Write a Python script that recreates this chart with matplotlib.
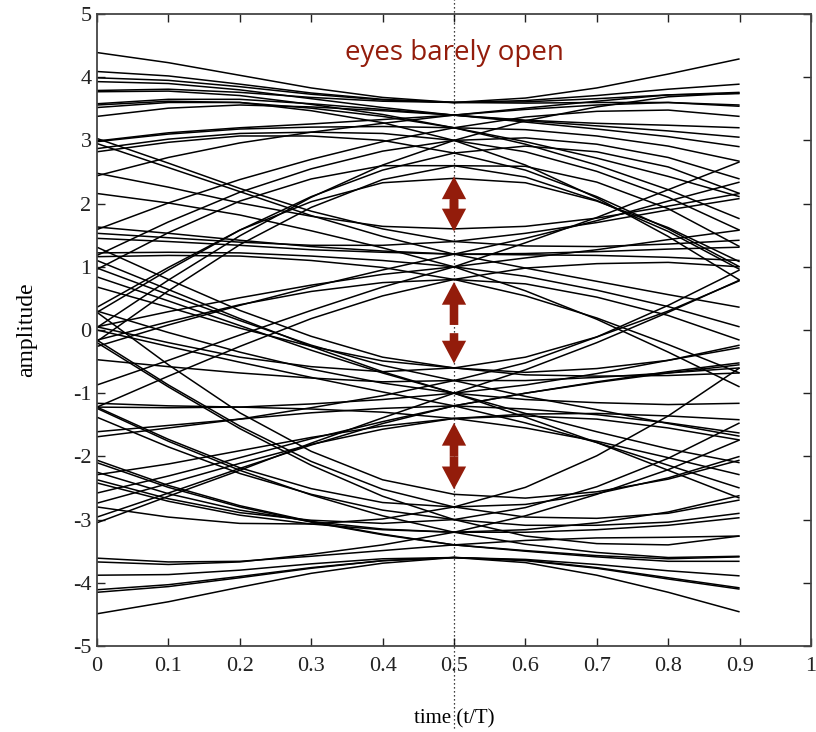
import matplotlib
matplotlib.use("Agg")
import matplotlib.pyplot as plt
import numpy as np

plt.rcParams["axes.unicode_minus"] = False

t_samples = [0.0, 0.1, 0.2, 0.3, 0.4, 0.5, 0.6, 0.7, 0.8, 0.9]

# traces that sit near +3 at t = 0.5
traces_p3 = [
    [4.39, 4.23, 4.03, 3.83, 3.68, 3.60, 3.67, 3.83, 4.05, 4.29],
    [4.09, 4.02, 3.89, 3.75, 3.65, 3.60, 3.63, 3.71, 3.81, 3.89],
    [3.99, 3.95, 3.85, 3.73, 3.64, 3.60, 3.61, 3.66, 3.72, 3.74],
    [3.79, 3.81, 3.76, 3.68, 3.62, 3.60, 3.59, 3.60, 3.60, 3.54],
    [3.93, 3.90, 3.80, 3.66, 3.52, 3.40, 3.32, 3.27, 3.24, 3.20],
    [3.58, 3.65, 3.65, 3.58, 3.49, 3.40, 3.31, 3.23, 3.15, 3.05],
    [3.77, 3.78, 3.71, 3.57, 3.41, 3.20, 2.94, 2.61, 2.22, 1.76],
    [3.56, 3.62, 3.60, 3.47, 3.28, 3.00, 2.61, 2.09, 1.48, 0.79],
    [2.99, 3.12, 3.20, 3.26, 3.33, 3.40, 3.51, 3.62, 3.72, 3.76],
    [2.44, 2.73, 2.96, 3.13, 3.27, 3.40, 3.49, 3.56, 3.60, 3.56],
    [2.98, 3.10, 3.18, 3.21, 3.22, 3.20, 3.17, 3.07, 2.91, 2.67],
    [2.87, 3.02, 3.11, 3.13, 3.11, 3.00, 2.82, 2.51, 2.10, 1.58],
    [1.59, 2.01, 2.38, 2.70, 2.98, 3.20, 3.37, 3.46, 3.48, 3.38],
    [1.18, 1.71, 2.18, 2.55, 2.83, 3.00, 3.04, 2.94, 2.73, 2.39],
    [0.96, 1.54, 2.04, 2.39, 2.60, 2.60, 2.42, 2.05, 1.56, 0.96],
    [0.04, 0.79, 1.49, 2.10, 2.61, 3.00, 3.31, 3.53, 3.69, 3.75],
    [0.28, 0.95, 1.58, 2.11, 2.53, 2.80, 2.91, 2.82, 2.58, 2.16],
    [-0.18, 0.62, 1.35, 1.94, 2.38, 2.60, 2.59, 2.34, 1.92, 1.32],
    [0.36, 0.99, 1.58, 2.03, 2.33, 2.40, 2.33, 2.04, 1.62, 1.08],
    [2.82, 2.97, 3.07, 3.07, 3.00, 2.80, 2.53, 2.11, 1.60, 1.00],
    [3.38, 3.51, 3.56, 3.53, 3.47, 3.40, 3.29, 3.18, 3.06, 2.90],
    [3.52, 3.60, 3.60, 3.51, 3.38, 3.20, 2.98, 2.72, 2.43, 2.11],
]

# traces near +1 at t = 0.5
traces_p1 = [
    [2.48, 2.26, 2.01, 1.80, 1.64, 1.60, 1.64, 1.77, 1.96, 2.16],
    [3.03, 2.64, 2.24, 1.88, 1.60, 1.40, 1.33, 1.32, 1.36, 1.42],
    [2.95, 2.57, 2.19, 1.81, 1.48, 1.20, 0.98, 0.77, 0.56, 0.36],
    [2.16, 2.01, 1.82, 1.57, 1.30, 1.00, 0.62, 0.17, -0.35, -0.90],
    [1.53, 1.46, 1.39, 1.34, 1.34, 1.40, 1.53, 1.70, 1.90, 2.08],
    [1.45, 1.40, 1.34, 1.27, 1.23, 1.20, 1.21, 1.24, 1.28, 1.31],
    [1.22, 1.23, 1.22, 1.17, 1.10, 1.00, 0.85, 0.63, 0.37, 0.05],
    [1.16, 1.18, 1.17, 1.10, 0.99, 0.80, 0.54, 0.19, -0.23, -0.68],
    [-0.26, 0.08, 0.39, 0.68, 0.95, 1.20, 1.45, 1.73, 2.04, 2.34],
    [0.05, 0.29, 0.51, 0.71, 0.88, 1.00, 1.14, 1.27, 1.43, 1.58],
    [-0.16, 0.13, 0.40, 0.61, 0.75, 0.80, 0.73, 0.52, 0.23, -0.16],
    [-0.87, -0.48, -0.08, 0.31, 0.68, 1.00, 1.38, 1.78, 2.22, 2.66],
    [-1.22, -0.73, -0.26, 0.18, 0.54, 0.80, 0.98, 1.05, 1.07, 1.00],
    [1.63, 1.53, 1.42, 1.32, 1.25, 1.20, 1.19, 1.18, 1.15, 1.10],
]

# traces near -1 at t = 0.5
traces_m1 = [
    [-2.74, -2.43, -2.11, -1.81, -1.57, -1.40, -1.33, -1.32, -1.36, -1.42],
    [-2.96, -2.58, -2.19, -1.82, -1.48, -1.20, -1.00, -0.82, -0.66, -0.52],
    [-3.05, -2.63, -2.22, -1.79, -1.39, -1.00, -0.63, -0.20, 0.28, 0.79],
    [-1.61, -1.51, -1.41, -1.31, -1.24, -1.20, -1.25, -1.34, -1.47, -1.63],
    [-1.22, -1.23, -1.22, -1.17, -1.10, -1.00, -0.87, -0.69, -0.48, -0.24],
    [-1.69, -1.55, -1.41, -1.23, -1.04, -0.80, -0.52, -0.11, 0.39, 0.95],
    [-1.16, -1.20, -1.22, -1.25, -1.30, -1.40, -1.55, -1.76, -2.02, -2.29],
    [0.00, -0.26, -0.51, -0.75, -0.98, -1.20, -1.47, -1.78, -2.14, -2.50],
    [0.30, -0.04, -0.35, -0.62, -0.84, -1.00, -1.10, -1.15, -1.18, -1.16],
    [-0.47, -0.58, -0.68, -0.76, -0.82, -0.80, -0.80, -0.75, -0.68, -0.60],
    [0.05, -0.20, -0.43, -0.58, -0.66, -0.60, -0.43, -0.11, 0.30, 0.78],
    [1.10, 0.64, 0.18, -0.26, -0.66, -1.00, -1.38, -1.78, -2.22, -2.66],
    [0.98, 0.56, 0.15, -0.24, -0.56, -0.80, -1.05, -1.26, -1.48, -1.68],
    [0.68, 0.36, 0.03, -0.26, -0.49, -0.60, -0.71, -0.73, -0.72, -0.68],
    [0.84, 0.46, 0.07, -0.32, -0.68, -1.00, -1.32, -1.61, -1.88, -2.10],
    [1.31, 0.80, 0.31, -0.10, -0.43, -0.60, -0.67, -0.61, -0.48, -0.28],
    [-2.58, -2.31, -2.02, -1.72, -1.45, -1.20, -1.00, -0.83, -0.68, -0.55],
    [-2.29, -2.12, -1.91, -1.70, -1.52, -1.40, -1.36, -1.41, -1.55, -1.74],
]

# traces near -3 at t = 0.5
traces_m3 = [
    [-4.49, -4.30, -4.07, -3.85, -3.69, -3.60, -3.68, -3.88, -4.15, -4.46],
    [-4.11, -4.03, -3.90, -3.76, -3.65, -3.60, -3.64, -3.76, -3.92, -4.08],
    [-4.15, -4.06, -3.92, -3.77, -3.65, -3.60, -3.65, -3.77, -3.94, -4.10],
    [-3.88, -3.87, -3.80, -3.70, -3.62, -3.60, -3.63, -3.71, -3.81, -3.89],
    [-3.61, -3.67, -3.66, -3.58, -3.49, -3.40, -3.33, -3.29, -3.28, -3.26],
    [-3.67, -3.71, -3.67, -3.55, -3.40, -3.20, -2.94, -2.60, -2.21, -1.74],
    [-2.80, -2.96, -3.06, -3.07, -2.99, -2.80, -2.49, -1.99, -1.36, -0.60],
    [-2.06, -2.46, -2.78, -3.03, -3.23, -3.40, -3.49, -3.57, -3.62, -3.59],
    [-2.25, -2.59, -2.85, -3.03, -3.15, -3.20, -3.20, -3.16, -3.09, -2.97],
    [-2.37, -2.67, -2.89, -3.01, -3.06, -3.00, -2.81, -2.48, -2.03, -1.47],
    [-1.24, -1.76, -2.22, -2.61, -2.94, -3.20, -3.39, -3.52, -3.60, -3.58],
    [-1.38, -1.85, -2.27, -2.60, -2.85, -3.00, -3.09, -3.09, -3.04, -2.90],
    [-1.22, -1.73, -2.18, -2.51, -2.73, -2.80, -2.76, -2.59, -2.34, -2.00],
    [-0.20, -0.90, -1.56, -2.14, -2.63, -3.00, -3.26, -3.38, -3.40, -3.26],
    [-0.16, -0.87, -1.52, -2.08, -2.52, -2.80, -2.96, -2.98, -2.90, -2.69],
    [0.28, -0.55, -1.31, -1.92, -2.37, -2.60, -2.66, -2.56, -2.36, -2.06],
    [-2.42, -2.71, -2.93, -3.07, -3.16, -3.20, -3.16, -3.05, -2.88, -2.62],
    [-2.10, -2.49, -2.80, -3.04, -3.24, -3.40, -3.50, -3.59, -3.66, -3.66],
]

# eye openings marked at t = 0.5: (start, tip) of each arrow piece
arrow_t = 0.5
arrow_pieces = [
    (1.92, 2.43), (2.06, 1.56),
    (0.08, 0.76), (-0.05, -0.53),
    (-2.0, -1.47), (-2.0, -2.52),
]
note = "eyes barely open"

x_ticks = [0, 0.1, 0.2, 0.3, 0.4, 0.5, 0.6, 0.7, 0.8, 0.9, 1]
x_labels = ["0", "0.1", "0.2", "0.3", "0.4", "0.5", "0.6", "0.7", "0.8", "0.9", "1"]
y_ticks = [-5, -4, -3, -2, -1, 0, 1, 2, 3, 4, 5]

red = "#931c0b"
serif = "Liberation Serif"

fig = plt.figure(figsize=(8.16, 7.32), dpi=100)
ax = fig.add_axes([97 / 816, 86 / 732, 714 / 816, 632 / 732])

for group in (traces_p3, traces_p1, traces_m1, traces_m3):
    for tr in group:
        ax.plot(t_samples, tr, color="black", lw=1.1, solid_capstyle="butt")

ax.axvline(arrow_t, ymin=-0.13, ymax=1.025, color="black", lw=0.9,
           ls=(0, (1, 2.2)), clip_on=False, zorder=3)

for y0, y1 in arrow_pieces:
    ax.arrow(arrow_t, y0, 0, y1 - y0, width=0.012, head_width=0.034,
             head_length=0.36, length_includes_head=True,
             color=red, lw=0, zorder=5)

ax.text(0.5, 4.28, note, ha="center", va="baseline", color=red,
        fontsize=20, family="Open Sans", zorder=6)

ax.set_xlim(0, 1)
ax.set_ylim(-5, 5)
ax.set_xticks(x_ticks)
ax.set_xticklabels(x_labels)
ax.set_yticks(y_ticks)
ax.tick_params(direction="in", length=6, width=1, top=True, right=True,
               labelsize=16, colors="#222222")
ax.tick_params(axis="x", pad=8)
ax.tick_params(axis="y", pad=4)
for lab in ax.get_xticklabels() + ax.get_yticklabels():
    lab.set_family(serif)
for sp in ax.spines.values():
    sp.set_color("#444444")
    sp.set_linewidth(1.3)

ax.set_xlabel("time (t/T)", family=serif, fontsize=15, labelpad=24)
ax.set_ylabel("amplitude", family=serif, fontsize=17, labelpad=26)

fig.savefig("out.png", dpi=100)
